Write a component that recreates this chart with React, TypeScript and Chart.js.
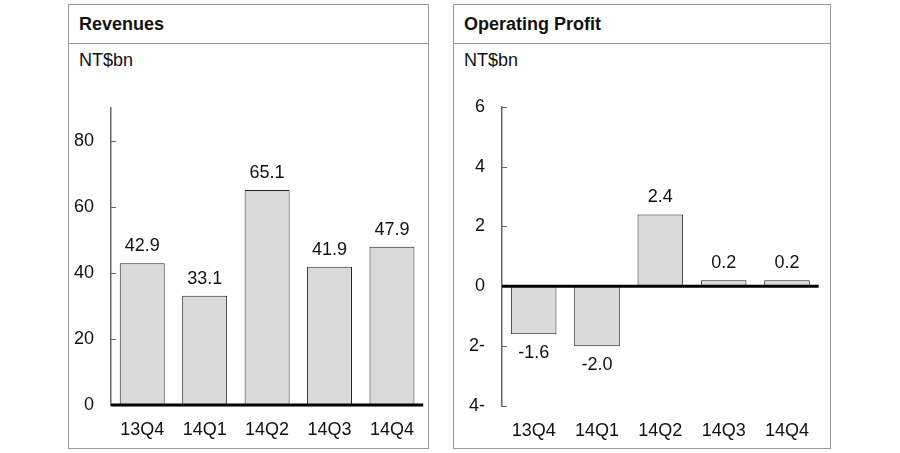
import React, { useEffect, useRef } from "react";
import { Chart, registerables } from "chart.js";

Chart.register(...registerables);

const quarters = ["13Q4", "14Q1", "14Q2", "14Q3", "14Q4"];
const revenues = [42.9, 33.1, 65.1, 41.9, 47.9];
const operatingProfit = [-1.6, -2.0, 2.4, 0.2, 0.2];
const revenueTicks = [0, 20, 40, 60, 80];
const profitTicks = [-4, -2, 0, 2, 4, 6];

const FONT = "'Liberation Sans', Arial, Helvetica, sans-serif";

const decorPlugin = {
  id: "decor",
  afterDatasetsDraw(chart: any) {
    const { ctx, chartArea, scales } = chart;
    const y = scales.y;
    const zeroY = y.getPixelForValue(0);
    ctx.save();
    // inward tick marks
    ctx.strokeStyle = "#666";
    ctx.lineWidth = 1;
    for (const t of y.ticks) {
      const py = Math.round(y.getPixelForValue(t.value)) + 0.5;
      ctx.beginPath();
      ctx.moveTo(chartArea.left, py);
      ctx.lineTo(chartArea.left + 5, py);
      ctx.stroke();
    }
    // zero line
    ctx.strokeStyle = "#000";
    ctx.lineWidth = 3;
    ctx.beginPath();
    ctx.moveTo(chartArea.left, zeroY);
    ctx.lineTo(chartArea.right, zeroY);
    ctx.stroke();
    // value labels
    ctx.fillStyle = "#111";
    ctx.font = `18px ${FONT}`;
    ctx.textAlign = "center";
    ctx.textBaseline = "middle";
    const meta = chart.getDatasetMeta(0);
    const data = chart.data.datasets[0].data as number[];
    meta.data.forEach((bar: any, i: number) => {
      const v = data[i];
      const ty = v >= 0 ? bar.y - 17 : bar.y + 19;
      ctx.fillText(v.toFixed(1), bar.x, ty);
    });
    ctx.restore();
  },
};

type ChartProps = {
  values: number[];
  tickValues: number[];
  min: number;
  max: number;
  left: number;
  top: number;
  width: number;
  height: number;
  yWidth: number;
  xHeight: number;
};

function BarChart(p: ChartProps) {
  const ref = useRef<HTMLCanvasElement | null>(null);
  useEffect(() => {
    if (!ref.current) return;
    const chart = new Chart(ref.current, {
      type: "bar",
      data: {
        labels: quarters,
        datasets: [
          {
            data: p.values,
            backgroundColor: "#dadada",
            borderColor: "#222",
            borderWidth: 1,
            barPercentage: 0.72,
            categoryPercentage: 1,
          },
        ],
      },
      options: {
        responsive: false,
        maintainAspectRatio: false,
        animation: false,
        layout: { padding: 0 },
        plugins: { legend: { display: false }, tooltip: { enabled: false } },
        scales: {
          x: {
            grid: { display: false, drawTicks: false },
            border: { display: false },
            ticks: { font: { family: FONT, size: 18 }, color: "#111", padding: 14 },
            afterFit: (s: any) => {
              s.height = p.xHeight;
            },
          },
          y: {
            min: p.min,
            max: p.max,
            grid: { display: false, drawTicks: false },
            border: { display: true, color: "#666", width: 1.5 },
            ticks: {
              font: { family: FONT, size: 18 },
              color: "#111",
              padding: 17,
              callback: (v: any) => (v < 0 ? `${-v}-` : `${v}`),
            },
            afterBuildTicks: (s: any) => {
              s.ticks = p.tickValues.map((v) => ({ value: v }));
            },
            afterFit: (s: any) => {
              s.width = p.yWidth;
            },
          },
        },
      },
      plugins: [decorPlugin],
    });
    return () => chart.destroy();
  }, []);
  return (
    <canvas
      ref={ref}
      width={p.width}
      height={p.height}
      style={{ position: "absolute", left: p.left, top: p.top, width: p.width, height: p.height }}
    />
  );
}

function Panel(props: { title: string; left: number; width: number }) {
  return (
    <div
      style={{
        position: "absolute",
        left: props.left,
        top: 4,
        width: props.width,
        height: 445,
        border: "1px solid #9a9a9a",
        boxSizing: "border-box",
        fontFamily: FONT,
        color: "#111",
      }}
    >
      <div
        style={{
          height: 38,
          lineHeight: "38px",
          borderBottom: "1px solid #9a9a9a",
          paddingLeft: 10,
          fontWeight: "bold",
          fontSize: 18,
        }}
      >
        {props.title}
      </div>
      <div style={{ position: "absolute", left: 10, top: 45, lineHeight: "20px", fontSize: 18 }}>NT$bn</div>
    </div>
  );
}

export default function App() {
  return (
    <div style={{ position: "absolute", left: 0, top: 0, width: 900, height: 453, background: "#fff" }}>
      <Panel title="Revenues" left={68} width={361} />
      <Panel title="Operating Profit" left={453} width={378} />
      <BarChart
        values={revenues}
        tickValues={revenueTicks}
        min={0}
        max={90}
        left={70}
        top={80}
        width={358}
        height={365}
        yWidth={41}
        xHeight={40}
      />
      <BarChart
        values={operatingProfit}
        tickValues={profitTicks}
        min={-4}
        max={6}
        left={455}
        top={79}
        width={368}
        height={366}
        yWidth={47}
        xHeight={39}
      />
    </div>
  );
}
